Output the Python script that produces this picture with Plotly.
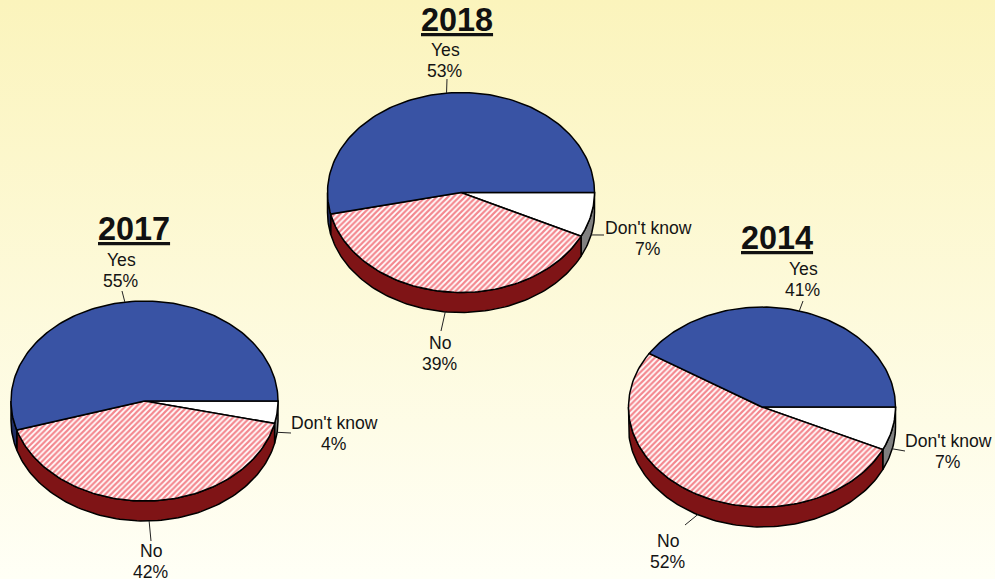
import math
import plotly.graph_objects as go

# ---------- data ----------
years = ["2018", "2017", "2014"]
categories = ["Don't know", "No", "Yes"]
values_2018 = [7.2, 39.3, 53.4]
values_2017 = [3.6, 41.7, 54.7]
values_2014 = [7, 52, 41]
all_values = [values_2018, values_2017, values_2014]

# ---------- geometry and style ----------
centers = [(461, 192.5), (144.5, 401), (762, 407)]
RX, RY, DEPTH = 133.5, 100, 20
top_colors = ["#FFFFFF", None, "#3953A4"]
side_colors = ["#808080", "#7F1416", "#1F2D63"]
EDGE = "#000000"
TEXT = "#141414"
title_pos = [(457, 20), (134, 229), (777, 238)]
label_pos = [
    [(648, 228), (440, 343), (445, 50)],
    [(334, 423), (151, 551), (121, 260)],
    [(948, 441), (668, 541), (803, 269)],
]
leader_end = [
    [(604, 235), (441, 331), (447, 79)],
    [(291, 433), (151, 541), (122, 291)],
    [(905, 451), (685, 525), (803, 301)],
]

fig = go.Figure()

# page background
fig.add_trace(go.Scatter(
    x=[0, 995, 995, 0, 0], y=[0, 0, 579, 579, 0], mode="lines", fill="toself",
    line=dict(width=0), hoverinfo="skip", showlegend=False,
    fillgradient=dict(type="vertical", start=0, stop=579,
                      colorscale=[[0, "#FBF4BC"], [1, "#FFFFF6"]]),
))


def arc(cx, cy, t0, t1, dy=0, n=None):
    n = n or max(2, int(abs(t1 - t0) / 1.5) + 2)
    ts = [t0 + (t1 - t0) * i / (n - 1) for i in range(n)]
    return ([cx + RX * math.cos(math.radians(t)) for t in ts],
            [cy + RY * math.sin(math.radians(t)) + dy for t in ts])


annotations = []
for year, vals, (cx, cy), tpos, lpos, lend in zip(
        years, all_values, centers, title_pos, label_pos, leader_end):
    total = sum(vals)
    bounds = [0]
    for v in vals:
        bounds.append(bounds[-1] + v / total * 360)

    # rim of the disc: only the front half is visible
    for i in range(3):
        t0, t1 = max(bounds[i], 0), min(bounds[i + 1], 180)
        if t1 <= t0:
            continue
        xa, ya = arc(cx, cy, t0, t1)
        xb, yb = arc(cx, cy, t1, t0, dy=DEPTH)
        fig.add_trace(go.Scatter(
            x=xa + xb + [xa[0]], y=ya + yb + [ya[0]], mode="lines", fill="toself",
            fillcolor=side_colors[i], line=dict(color=EDGE, width=1.5),
            hoverinfo="skip", showlegend=False))

    # top face
    for i in range(3):
        xa, ya = arc(cx, cy, bounds[i], bounds[i + 1])
        kw = {}
        if top_colors[i] is None:
            kw = dict(fillcolor="#FFFFFF",
                      fillpattern=dict(shape="/", fgcolor="#E8101E", bgcolor="#FFFFFF",
                                       size=4, solidity=0.55))
        else:
            kw = dict(fillcolor=top_colors[i])
        fig.add_trace(go.Scatter(
            x=[cx] + xa + [cx], y=[cy] + ya + [cy], mode="lines", fill="toself",
            line=dict(color=EDGE, width=1.5), hoverinfo="skip",
            name=categories[i], showlegend=False, **kw))

    # leaders and labels
    for i in range(3):
        mid = math.radians((bounds[i] + bounds[i + 1]) / 2)
        sx = cx + RX * math.cos(mid)
        sy = cy + RY * math.sin(mid) + (DEPTH if math.sin(mid) > 0 else 0)
        fig.add_trace(go.Scatter(
            x=[sx, lend[i][0]], y=[sy, lend[i][1]], mode="lines",
            line=dict(color="#222222", width=1), hoverinfo="skip", showlegend=False))
        for text, dy in ((categories[i], 0), (f"{round(vals[i])}%", 20.5)):
            annotations.append(dict(
                x=lpos[i][0], y=lpos[i][1] + dy, xref="x", yref="y", text=text,
                showarrow=False, xanchor="center", yanchor="middle",
                font=dict(family="Liberation Sans, Arial, sans-serif", size=17.6, color=TEXT)))

    annotations.append(dict(
        x=tpos[0], y=tpos[1], xref="x", yref="y", text=f"<b><u>{year}</u></b>",
        showarrow=False, xanchor="center", yanchor="middle",
        font=dict(family="Liberation Sans, Arial, sans-serif", size=32.4, color="#111111")))

fig.update_layout(
    width=995, height=579, margin=dict(l=0, r=0, t=0, b=0),
    paper_bgcolor="#FFFFF6", plot_bgcolor="rgba(0,0,0,0)", showlegend=False,
    xaxis=dict(range=[0, 995], visible=False, fixedrange=True),
    yaxis=dict(range=[579, 0], visible=False, fixedrange=True),
    annotations=annotations,
)
fig.write_html("out.html", config=dict(displayModeBar=False),
               post_script="document.body.style.margin='0';document.body.style.overflow='hidden';")
